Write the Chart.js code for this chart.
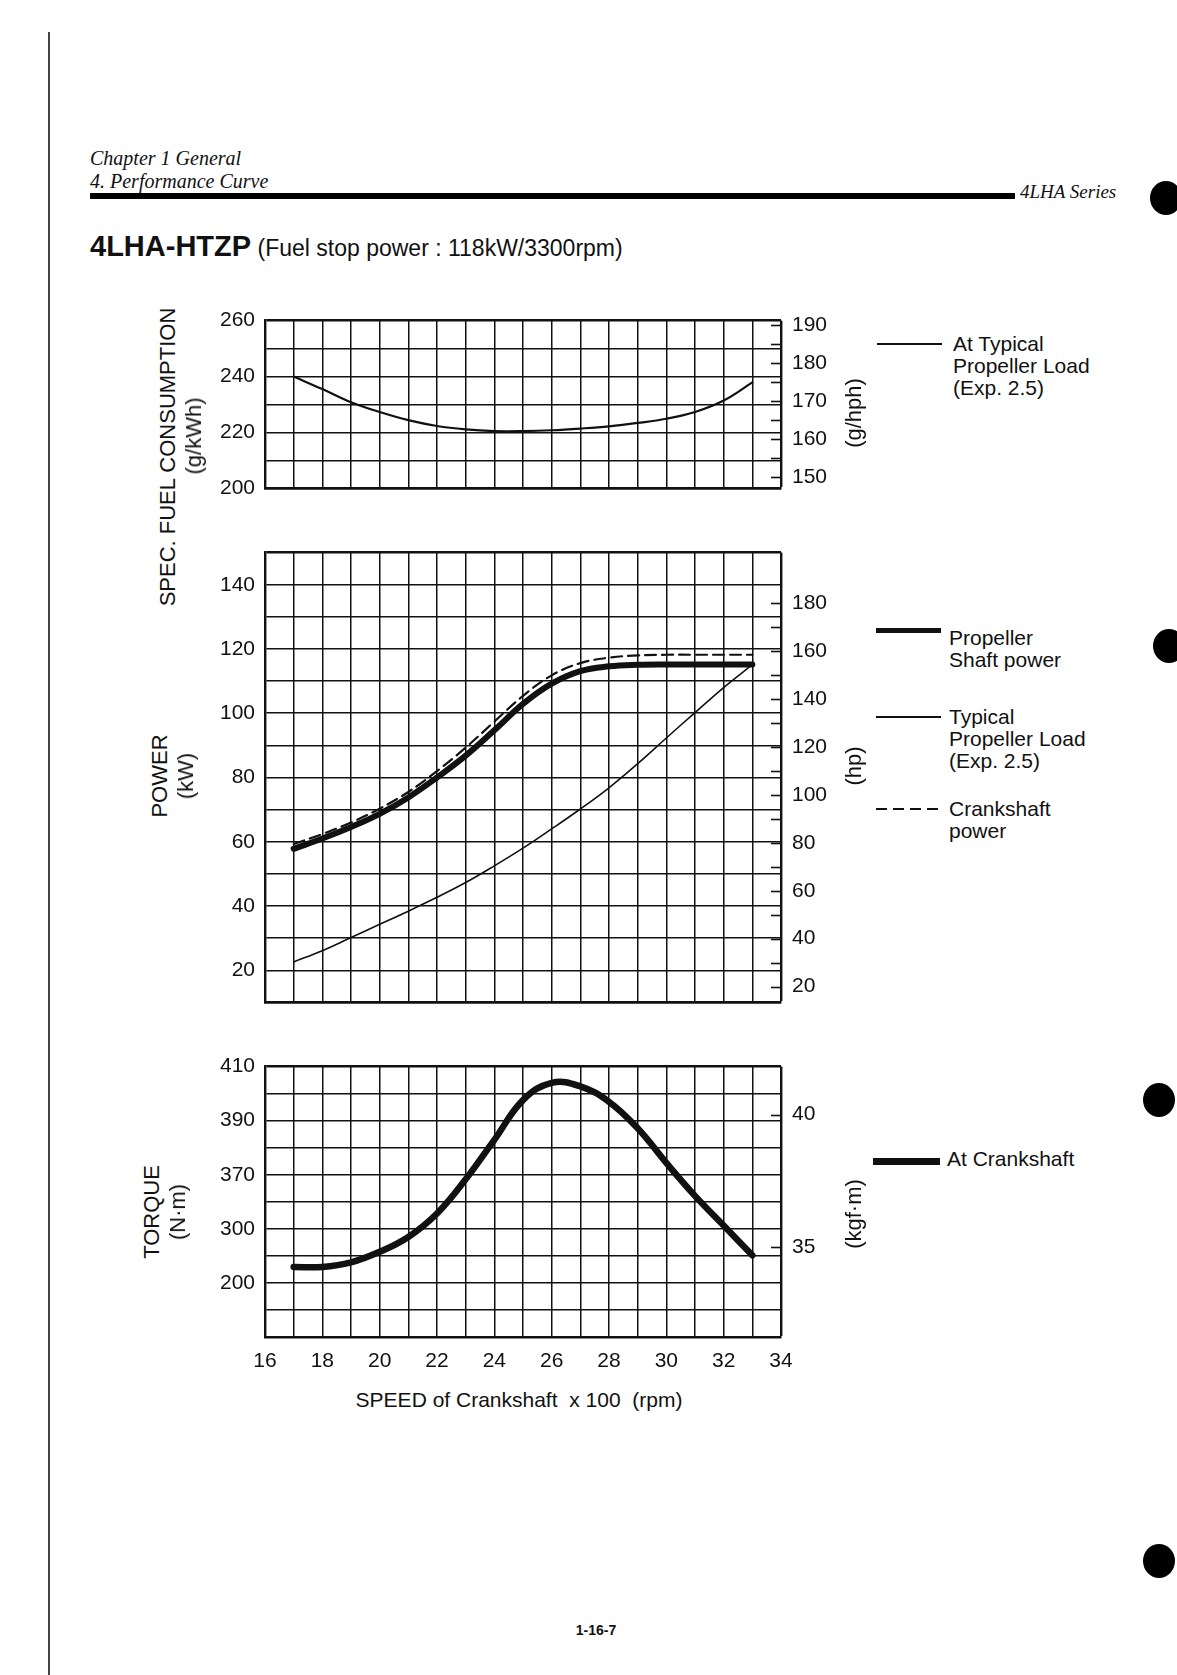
<!DOCTYPE html>
<html>
<head>
<meta charset="utf-8">
<script src="https://cdn.jsdelivr.net/npm/chart.js@4.4.1/dist/chart.umd.min.js"></script>
<style>
body { margin: 0; background: #fff; }
#page { position: relative; width: 1177px; height: 1675px; overflow: hidden; background: #fff;
  font-family: "Liberation Sans", Arial, sans-serif; color: #111; }
.t { position: absolute; white-space: pre; line-height: 1; }
.serif { font-family: "Liberation Serif", "Times New Roman", serif; font-style: italic; }
.rot { position: absolute; white-space: nowrap; line-height: 1; font-size: 22px;
  transform: translate(-50%, -50%) rotate(-90deg); }
.leg { position: absolute; font-size: 21px; line-height: 22px; white-space: pre; }
.dot { position: absolute; width: 32px; height: 34px; border-radius: 50%; background: #000; }
canvas { position: absolute; }
</style>
</head>
<body>
<div id="page">
  <div style="position:absolute;left:48px;top:32px;width:2px;height:1650px;background:#444"></div>

  <div class="t serif" style="left:90px;top:148px;font-size:20px">Chapter 1 General</div>
  <div class="t serif" style="left:90px;top:171px;font-size:20px">4. Performance Curve</div>
  <div style="position:absolute;left:90px;top:193px;width:925px;height:6px;background:#000"></div>
  <div class="t serif" style="left:1020px;top:182px;font-size:19px">4LHA Series</div>
  <div class="t" style="left:90px;top:232px"><b style="font-size:29px">4LHA-HTZP</b><span style="font-size:23px"> (Fuel stop power : 118kW/3300rpm)</span></div>

  <div class="dot" style="left:1150px;top:181px"></div>
  <div class="dot" style="left:1153px;top:629px"></div>
  <div class="dot" style="left:1143px;top:1083px"></div>
  <div class="dot" style="left:1143px;top:1544px"></div>

  <canvas id="fuel" width="660" height="215" style="left:185px;top:297px"></canvas>
  <canvas id="power" width="660" height="497" style="left:185px;top:529px"></canvas>
  <canvas id="torque" width="660" height="339" style="left:185px;top:1043px"></canvas>

  <div class="rot" style="left:168px;top:457px">SPEC. FUEL CONSUMPTION</div>
  <div class="rot" style="left:194px;top:436px">(g/kWh)</div>
  <div class="rot" style="left:160px;top:776px">POWER</div>
  <div class="rot" style="left:186px;top:776px">(kW)</div>
  <div class="rot" style="left:152px;top:1212px">TORQUE</div>
  <div class="rot" style="left:178px;top:1212px">(N·m)</div>
  <div class="rot" style="left:854px;top:413px">(g/hph)</div>
  <div class="rot" style="left:854px;top:766px">(hp)</div>
  <div class="rot" style="left:854px;top:1214px">(kgf·m)</div>
  <div class="t" style="left:519px;top:1389px;font-size:21px;transform:translateX(-50%)">SPEED of Crankshaft  x 100  (rpm)</div>

  <div style="position:absolute;left:877px;top:343px;width:65px;height:2px;background:#111"></div>
  <div class="leg" style="left:953px;top:333px">At Typical
Propeller Load
(Exp. 2.5)</div>

  <div style="position:absolute;left:876px;top:628px;width:65px;height:5px;background:#111"></div>
  <div class="leg" style="left:949px;top:627px">Propeller
Shaft power</div>

  <div style="position:absolute;left:876px;top:716px;width:65px;height:2px;background:#111"></div>
  <div class="leg" style="left:949px;top:706px">Typical
Propeller Load
(Exp. 2.5)</div>

  <div style="position:absolute;left:876px;top:808px;width:65px;height:2px;background:repeating-linear-gradient(90deg,#111 0 11px,transparent 11px 17px)"></div>
  <div class="leg" style="left:949px;top:798px">Crankshaft
power</div>

  <div style="position:absolute;left:873px;top:1158px;width:67px;height:7px;background:#111"></div>
  <div class="leg" style="left:947px;top:1148px">At Crankshaft</div>

  <div class="t" style="left:596px;top:1623px;font-size:14px;font-weight:bold;transform:translateX(-50%)">1-16-7</div>
</div>

<script>
// speed of crankshaft x 100 rpm
var speed = [17, 18, 19, 20, 21, 22, 23, 24, 25, 26, 27, 28, 29, 30, 31, 32, 33];

// spec. fuel consumption at typical propeller load (g/kWh)
var fuelCons = [240, 235.5, 230.8, 227.3, 224.4, 222.3, 221.1, 220.5, 220.5, 220.8, 221.4, 222.2, 223.4, 224.9, 227.3, 231.4, 237.9];

// power (kW)
var shaftPower = [57.8, 61.0, 64.6, 68.7, 73.8, 80.0, 86.8, 94.7, 102.9, 109.2, 113.1, 114.6, 115.1, 115.2, 115.2, 115.2, 115.2];
var crankPower = [59.3, 62.4, 66.0, 70.3, 75.5, 82.0, 89.3, 97.4, 105.4, 111.8, 115.6, 117.3, 118.0, 118.2, 118.2, 118.2, 118.2];
var propLoad = [22.6, 26.1, 30.2, 34.3, 38.4, 42.7, 47.3, 52.5, 58.0, 64.0, 70.2, 76.8, 84.3, 92.3, 100.2, 108.0, 115.1];

// torque at crankshaft (N·m)
var torque = [335.9, 335.9, 337.6, 341.5, 347.0, 355.7, 368.3, 382.9, 397.6, 404.0, 402.7, 397.0, 387.2, 374.4, 362.2, 351.2, 340.2];

// ticks
var speedTicks = [16, 17, 18, 19, 20, 21, 22, 23, 24, 25, 26, 27, 28, 29, 30, 31, 32, 33, 34];
var fuelTicks = [200, 210, 220, 230, 240, 250, 260];
var ghphTicks = [150, 155, 160, 165, 170, 175, 180, 185, 190];
var kwTicks = [10, 20, 30, 40, 50, 60, 70, 80, 90, 100, 110, 120, 130, 140, 150];
var hpTicks = [20, 30, 40, 50, 60, 70, 80, 90, 100, 110, 120, 130, 140, 150, 160, 170, 180];
var torqueTicks = [310, 320, 330, 340, 350, 360, 370, 380, 390, 400, 410];
var torqueLabelAt = [410, 390, 370, 350, 330];
var torqueLabelText = ['410', '390', '370', '300', '200'];
var kgfTicks = [35, 40];

var KW_TO_HP = 1.341;
var GKWH_TO_GHPH = 0.7355;
var NM_TO_KGFM = 1 / 9.80665;

Chart.defaults.font.family = '"Liberation Sans", Arial, sans-serif';
Chart.defaults.font.size = 21;
Chart.defaults.color = '#111';

var INK = '#111';

function pts(ys) {
    return speed.map(function (s, i) { return { x: s, y: ys[i] }; });
}

function setTicks(list) {
    return function (axis) {
        axis.ticks = list.map(function (v) { return { value: v }; });
    };
}

// short tick marks on the inner side of the right border
var innerTicks = {
    id: 'innerTicks',
    afterDraw: function (chart) {
        var s = chart.scales.y2;
        var a = chart.chartArea;
        var ctx = chart.ctx;
        ctx.save();
        ctx.strokeStyle = INK;
        ctx.lineWidth = 1.6;
        s.ticks.forEach(function (t) {
            var y = Math.round(s.getPixelForValue(t.value)) + 0.5;
            ctx.beginPath();
            ctx.moveTo(a.right - 10, y);
            ctx.lineTo(a.right, y);
            ctx.stroke();
        });
        ctx.restore();
    }
};

function xAxis(showLabels) {
    return {
        type: 'linear', min: 16, max: 34,
        afterBuildTicks: setTicks(speedTicks),
        afterFit: function (s) { s.height = showLabels ? 45 : 0; },
        grid: {
            color: INK, drawTicks: false,
            lineWidth: function (c) { return c.tick && c.tick.value === 34 ? 2.4 : 1.5; }
        },
        border: { color: INK, width: 2.4 },
        ticks: {
            display: showLabels, padding: 12, maxRotation: 0, autoSkip: false,
            callback: function (v) { return v % 2 === 0 ? String(v) : ''; }
        }
    };
}

function yAxis(min, max, list, label) {
    return {
        position: 'left', min: min, max: max,
        afterBuildTicks: setTicks(list),
        afterFit: function (s) { s.width = 80; },
        grid: {
            color: INK, drawTicks: false,
            lineWidth: function (c) { return c.tick && c.tick.value === max ? 2.4 : 1.5; }
        },
        border: { color: INK, width: 2.4 },
        ticks: { padding: 10, autoSkip: false, callback: label }
    };
}

function y2Axis(min, max, list, label) {
    return {
        position: 'right', min: min, max: max,
        afterBuildTicks: setTicks(list),
        afterFit: function (s) { s.width = 64; },
        grid: { display: false, drawTicks: false },
        border: { display: false },
        ticks: { padding: 11, autoSkip: false, callback: label }
    };
}

function lineSet(ys, width, dash) {
    return {
        data: pts(ys),
        borderColor: INK,
        borderWidth: width,
        borderDash: dash || [],
        borderCapStyle: 'round',
        borderJoinStyle: 'round',
        tension: 0.4,
        pointRadius: 0,
        fill: false
    };
}

var common = {
    responsive: false,
    animation: false,
    plugins: { legend: { display: false }, tooltip: { enabled: false } }
};

new Chart('fuel', {
    type: 'line',
    data: { datasets: [lineSet(fuelCons, 2.2)] },
    options: Object.assign({}, common, {
        layout: { padding: { top: 20, bottom: 20, left: 0, right: 0 } },
        scales: {
            x: xAxis(false),
            y: yAxis(200, 260, fuelTicks, function (v) { return v % 20 === 0 ? String(v) : ''; }),
            y2: y2Axis(200 * GKWH_TO_GHPH, 260 * GKWH_TO_GHPH, ghphTicks, function (v) { return v % 10 === 0 ? String(v) : ''; })
        }
    }),
    plugins: [innerTicks]
});

new Chart('power', {
    type: 'line',
    data: {
        datasets: [
            lineSet(propLoad, 1.6),
            lineSet(shaftPower, 6),
            lineSet(crankPower, 2.2, [11, 6])
        ]
    },
    options: Object.assign({}, common, {
        layout: { padding: { top: 20, bottom: 20, left: 0, right: 0 } },
        scales: {
            x: xAxis(false),
            y: yAxis(10, 150, kwTicks, function (v) { return v % 20 === 0 ? String(v) : ''; }),
            y2: y2Axis(10 * KW_TO_HP, 150 * KW_TO_HP, hpTicks, function (v) { return v % 20 === 0 ? String(v) : ''; })
        }
    }),
    plugins: [innerTicks]
});

new Chart('torque', {
    type: 'line',
    data: { datasets: [lineSet(torque, 6.5)] },
    options: Object.assign({}, common, {
        layout: { padding: { top: 20, bottom: 0, left: 0, right: 0 } },
        scales: {
            x: xAxis(true),
            y: yAxis(310, 410, torqueTicks, function (v) {
                var i = torqueLabelAt.indexOf(v);
                return i >= 0 ? torqueLabelText[i] : '';
            }),
            y2: y2Axis(310 * NM_TO_KGFM, 410 * NM_TO_KGFM, kgfTicks, function (v) { return String(v); })
        }
    }),
    plugins: [innerTicks]
});
</script>
</body>
</html>
